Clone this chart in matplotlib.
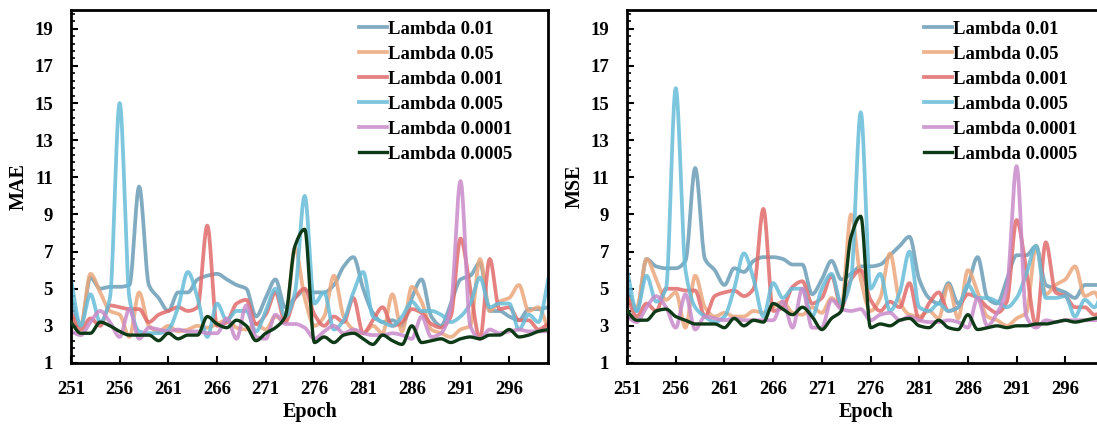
import numpy as np
import matplotlib
matplotlib.use("Agg")
import matplotlib.pyplot as plt
from matplotlib.ticker import AutoMinorLocator

epochs = np.arange(251, 301)
labels = ["Lambda 0.01", "Lambda 0.05", "Lambda 0.001",
          "Lambda 0.005", "Lambda 0.0001", "Lambda 0.0005"]
colors = ["#6b9db6", "#eba77c", "#e16b6b", "#66bcd9", "#c98bc9", "#0e3a18"]

# MAE values per epoch (251..300)
mae_001 = [4.5, 3.0, 5.6, 5.0, 5.1, 5.1, 5.2, 10.5, 5.2, 4.5,
           3.8, 4.8, 4.8, 5.5, 5.7, 5.8, 5.5, 5.2, 5.0, 3.5,
           4.5, 5.5, 4.0, 4.5, 4.9, 4.8, 4.8, 5.2, 6.2, 6.7,
           5.0, 3.7, 3.2, 3.3, 3.0, 4.5, 5.5, 3.5, 3.0, 4.2,
           5.5, 5.7, 6.4, 3.8, 3.8, 3.5, 3.3, 3.9, 3.9, 4.0]
mae_005 = [3.5, 3.0, 5.8, 4.8, 3.8, 3.6, 2.4, 4.8, 3.0, 2.7,
           3.0, 2.7, 2.8, 3.0, 2.9, 3.1, 3.3, 2.9, 2.8, 3.1,
           2.8, 3.5, 3.2, 7.2, 4.5, 3.0, 3.5, 5.7, 3.5, 2.8,
           2.6, 3.0, 2.6, 4.7, 2.7, 5.1, 4.3, 2.8, 2.6, 2.4,
           2.8, 3.0, 6.6, 3.8, 4.3, 4.5, 5.2, 3.8, 4.0, 2.8]
mae_0001 = [3.7, 2.8, 3.4, 3.0, 4.1, 4.0, 3.9, 3.9, 3.2, 3.6,
            3.8, 4.0, 3.8, 4.0, 8.4, 3.0, 3.2, 4.2, 4.4, 3.1,
            3.6, 4.8, 3.2, 4.5, 5.0, 3.6, 3.0, 3.5, 3.2, 4.5,
            2.6, 3.3, 4.0, 3.0, 3.2, 3.9, 3.7, 3.1, 2.9, 3.5,
            7.7, 5.0, 2.3, 6.6, 3.9, 4.0, 3.3, 3.3, 2.8, 3.1]
mae_0005 = [5.5, 3.0, 4.7, 3.2, 4.5, 15.0, 4.5, 2.7, 2.6, 2.6,
            2.8, 4.0, 5.9, 4.5, 2.4, 4.2, 3.3, 3.8, 3.8, 2.7,
            3.8, 5.0, 3.5, 4.8, 10.0, 4.2, 4.8, 2.8, 3.3, 4.8,
            5.9, 3.5, 3.2, 3.0, 3.5, 4.3, 3.8, 3.8, 3.6, 3.2,
            3.5, 4.2, 5.6, 4.0, 4.2, 4.2, 2.8, 3.6, 3.2, 5.5]
mae_00001 = [2.7, 2.5, 3.2, 3.8, 3.2, 2.4, 3.9, 2.3, 2.9, 2.8,
             2.7, 2.8, 2.7, 2.7, 2.6, 2.6, 3.4, 2.3, 4.1, 2.4,
             2.3, 3.6, 3.1, 3.1, 2.9, 2.3, 2.7, 3.0, 2.6, 2.8,
             2.6, 2.5, 2.5, 2.6, 2.5, 2.3, 3.5, 2.4, 2.6, 4.0,
             10.8, 3.0, 2.3, 2.8, 2.6, 2.7, 2.8, 2.7, 2.7, 2.7]
mae_00005 = [3.2, 2.6, 2.6, 3.2, 3.0, 2.7, 2.5, 2.5, 2.5, 2.2,
             2.6, 2.3, 2.5, 2.5, 3.5, 3.1, 2.9, 3.3, 3.0, 2.2,
             2.6, 2.9, 3.5, 7.3, 8.2, 2.1, 2.4, 2.1, 2.5, 2.6,
             2.3, 2.0, 2.5, 2.2, 2.0, 3.0, 2.1, 2.2, 2.3, 2.1,
             2.3, 2.4, 2.3, 2.5, 2.5, 2.8, 2.4, 2.5, 2.7, 2.8]

# MSE values per epoch (251..300)
mse_001 = [5.0, 3.8, 6.6, 6.2, 6.1, 6.1, 6.5, 11.5, 6.6, 6.0,
           5.2, 6.1, 5.9, 6.5, 6.7, 6.7, 6.6, 6.3, 6.3, 4.7,
           5.5, 6.5, 5.5, 5.8, 6.2, 6.2, 6.3, 6.8, 7.3, 7.8,
           5.5, 4.5, 4.2, 5.3, 4.2, 5.2, 6.7, 4.5, 4.2, 5.5,
           6.8, 6.8, 7.3, 5.2, 5.0, 4.8, 4.5, 5.2, 5.2, 5.2]
mse_005 = [4.5, 4.0, 6.6, 5.5, 4.4, 4.8, 2.9, 5.7, 4.0, 3.5,
           3.7, 3.5, 3.5, 3.8, 3.7, 4.0, 4.3, 3.7, 3.6, 4.0,
           3.7, 4.5, 4.0, 9.0, 5.5, 3.8, 4.5, 6.9, 4.3, 3.6,
           3.5, 3.8, 3.4, 5.2, 3.4, 6.0, 4.8, 3.5, 3.3, 3.0,
           3.4, 3.7, 7.3, 4.7, 5.2, 5.5, 6.2, 4.6, 4.8, 3.5]
mse_0001 = [4.6, 3.5, 4.2, 3.8, 5.0, 5.0, 4.9, 4.9, 3.5, 4.6,
            4.8, 4.9, 4.6, 5.0, 9.3, 3.8, 4.0, 5.1, 5.4, 4.2,
            4.5, 5.7, 4.0, 5.5, 6.0, 4.4, 3.8, 4.3, 4.0, 5.3,
            3.3, 4.2, 4.8, 3.8, 4.0, 4.7, 4.5, 4.0, 3.7, 4.3,
            8.7, 6.0, 3.0, 7.5, 4.8, 4.6, 4.0, 4.0, 3.6, 3.8]
mse_0005 = [6.0, 3.8, 5.7, 4.3, 5.0, 15.8, 6.0, 4.0, 3.5, 3.2,
            3.5, 5.0, 6.9, 5.5, 3.5, 5.3, 4.5, 5.0, 5.0, 3.5,
            5.0, 5.8, 4.2, 5.5, 14.5, 5.0, 5.8, 3.8, 4.8, 7.0,
            4.0, 3.8, 4.2, 3.8, 4.0, 5.2, 4.5, 4.5, 4.3, 4.0,
            4.5, 5.8, 7.3, 4.5, 4.5, 4.6, 3.5, 4.4, 4.0, 5.3]
mse_00001 = [3.5, 3.2, 4.0, 4.6, 4.0, 2.9, 4.7, 2.8, 3.5, 3.4,
             3.3, 3.4, 3.3, 3.3, 3.3, 3.3, 4.3, 2.9, 5.0, 2.9,
             2.9, 4.4, 3.9, 3.8, 3.9, 3.3, 3.6, 3.7, 3.3, 3.5,
             3.3, 3.2, 3.2, 3.3, 3.2, 2.9, 4.5, 3.0, 3.7, 5.0,
             11.6, 3.5, 2.9, 3.3, 3.2, 3.3, 3.3, 3.3, 3.3, 3.4]
mse_00005 = [3.8, 3.3, 3.3, 3.8, 3.9, 3.5, 3.3, 3.1, 3.1, 3.1,
             2.9, 3.4, 3.0, 3.3, 3.2, 4.2, 3.9, 3.6, 4.0, 3.5,
             2.8, 3.4, 3.8, 7.8, 8.9, 2.9, 3.1, 3.0, 3.3, 3.4,
             3.0, 2.9, 3.3, 2.9, 2.8, 3.6, 2.8, 2.9, 3.0, 2.9,
             3.0, 3.0, 3.1, 3.1, 3.2, 3.3, 3.2, 3.3, 3.4, 3.5]

mae_series = [mae_001, mae_005, mae_0001, mae_0005, mae_00001, mae_00005]
mse_series = [mse_001, mse_005, mse_0001, mse_0005, mse_00001, mse_00005]


def smooth(x, y, n=16):
    # monotone cubic (Fritsch-Carlson) so peaks don't overshoot
    x = np.asarray(x, float)
    y = np.asarray(y, float)
    h = np.diff(x)
    d = np.diff(y) / h
    m = np.zeros_like(y)
    m[0], m[-1] = d[0], d[-1]
    for i in range(1, len(y) - 1):
        if d[i - 1] * d[i] > 0:
            w1 = 2 * h[i] + h[i - 1]
            w2 = h[i] + 2 * h[i - 1]
            m[i] = (w1 + w2) / (w1 / d[i - 1] + w2 / d[i])
    xs, ys = [], []
    for i in range(len(x) - 1):
        t = np.linspace(0, 1, n, endpoint=False)
        h00 = 2 * t**3 - 3 * t**2 + 1
        h10 = t**3 - 2 * t**2 + t
        h01 = -2 * t**3 + 3 * t**2
        h11 = t**3 - t**2
        xs.extend(x[i] + t * h[i])
        ys.extend(h00 * y[i] + h10 * h[i] * m[i] + h01 * y[i + 1] + h11 * h[i] * m[i + 1])
    xs.append(x[-1])
    ys.append(y[-1])
    return np.array(xs), np.array(ys)


plt.rcParams["font.family"] = ["Liberation Serif", "DejaVu Serif"]
plt.rcParams["font.weight"] = "bold"
plt.rcParams["axes.labelweight"] = "bold"

fig = plt.figure(figsize=(10.97, 4.25), dpi=100)
ax1 = fig.add_axes([0.0647, 0.146, 0.435, 0.830])
ax2 = fig.add_axes([0.5716, 0.146, 0.435, 0.830])

for ax, series, ylab, lx in [(ax1, mae_series, "MAE", 0.595),
                             (ax2, mse_series, "MSE", 0.614)]:
    for vals, lab, col in zip(series, labels, colors):
        sx, sy = smooth(epochs, vals)
        if lab == "Lambda 0.0005":
            ax.plot(sx, sy, color=col, lw=2.4, label=lab, zorder=5)
        else:
            ax.plot(sx, sy, color=col, lw=2.7, alpha=0.85, label=lab)
    ax.set_xlim(251, 300)
    ax.set_ylim(1, 20)
    ax.set_xticks(np.arange(251, 300, 5))
    ax.set_yticks(np.arange(1, 20, 2))
    ax.yaxis.set_minor_locator(AutoMinorLocator(5))
    ax.tick_params(direction="in", labelsize=13.5, width=1.5, length=5)
    ax.tick_params(axis="x", pad=13)
    ax.tick_params(axis="y", pad=13)
    ax.tick_params(axis="y", which="minor", direction="in", width=1.2, length=3)
    for sp in ax.spines.values():
        sp.set_linewidth(2)
    ax.set_xlabel("Epoch", fontsize=14.5, labelpad=3)
    ax.set_ylabel(ylab, fontsize=14.5, labelpad=4)
    ax.legend(loc="upper left", bbox_to_anchor=(lx, 0.981), frameon=False,
              fontsize=13.5, handlelength=1.5, handletextpad=0.05,
              labelspacing=0.42, borderpad=0.1, borderaxespad=0.1)

fig.savefig("out.png", dpi=100)
